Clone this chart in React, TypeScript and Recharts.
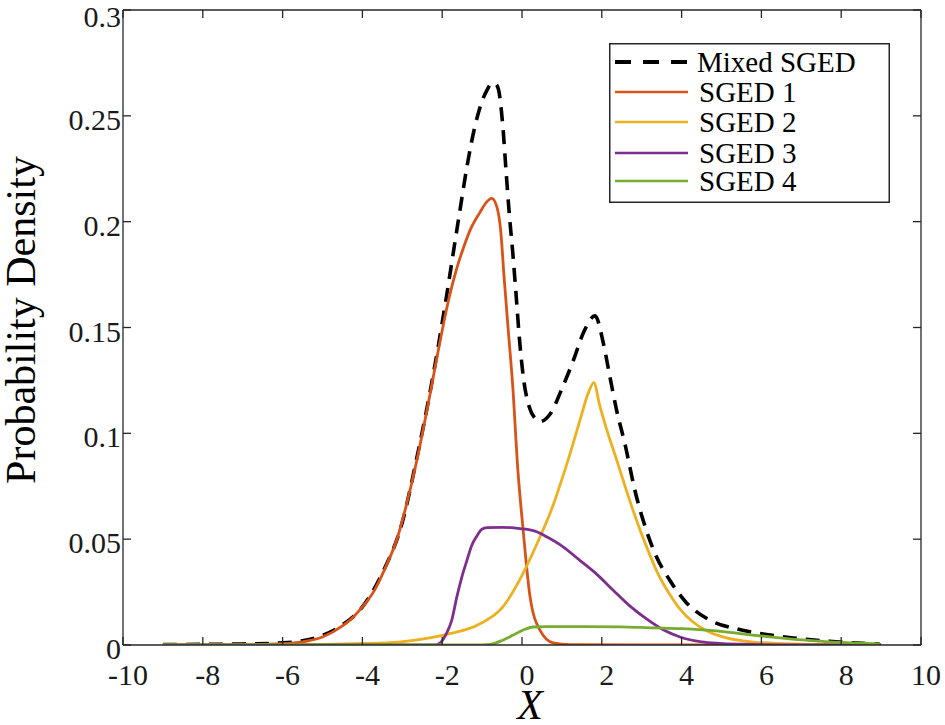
import React from 'react';
import { LineChart, Line, XAxis, YAxis, Legend, Label } from 'recharts';

// ---- data ----
const xTicks = [-10, -8, -6, -4, -2, 0, 2, 4, 6, 8, 10];
const yTicks = [0, 0.05, 0.1, 0.15, 0.2, 0.25, 0.3];

const mixedX = [-9, -8, -7, -6, -5.5, -5, -4.5, -4, -3.5, -3, -2.64, -2.3, -2.1, -1.89, -1.7, -1.55, -1.37, -1.18, -1.0, -0.88, -0.75, -0.66, -0.59, -0.48, -0.4, -0.32, -0.23, -0.15, -0.07, 0.03, 0.18, 0.33, 0.45, 0.7, 1.02, 1.29, 1.55, 1.83, 2.04, 2.2, 2.37, 2.58, 2.83, 3.12, 3.37, 3.7, 4.12, 4.7, 5.38, 6.04, 6.8, 7.63, 8.28, 8.96];
const mixedY = [0.0002, 0.0003, 0.0005, 0.001, 0.002, 0.0045, 0.0095, 0.018, 0.034, 0.058, 0.088, 0.12, 0.141, 0.165, 0.188, 0.206, 0.227, 0.245, 0.257, 0.262, 0.2655, 0.265, 0.2625, 0.245, 0.224, 0.204, 0.185, 0.166, 0.146, 0.127, 0.1126, 0.107, 0.1055, 0.109, 0.122, 0.1346, 0.148, 0.1555, 0.1425, 0.127, 0.111, 0.095, 0.073, 0.054, 0.0417, 0.0307, 0.02, 0.0118, 0.0076, 0.0052, 0.0033, 0.0019, 0.001, 0.0005];

const sged1X = [-9, -7, -6, -5.5, -5, -4.5, -4.24, -4, -3.74, -3.39, -3.14, -2.9, -2.65, -2.31, -2.1, -1.84, -1.65, -1.48, -1.3, -1.05, -0.9, -0.76, -0.63, -0.53, -0.45, -0.35, -0.22, -0.12, 0.03, 0.2, 0.45, 0.78, 1.2, 3, 6, 9];
const sged1Y = [0, 0.0001, 0.0006, 0.0015, 0.0038, 0.009, 0.013, 0.018, 0.0245, 0.038, 0.0496, 0.066, 0.086, 0.118, 0.139, 0.163, 0.177, 0.187, 0.196, 0.2045, 0.209, 0.211, 0.207, 0.195, 0.174, 0.15, 0.119, 0.087, 0.054, 0.023, 0.007, 0.001, 0.0002, 0, 0, 0];

const sged2X = [-9, -6, -5, -4, -3.1, -2.5, -1.88, -1.05, -0.48, 0.03, 0.45, 0.78, 1.03, 1.15, 1.45, 1.66, 1.8, 1.95, 2.12, 2.38, 2.6, 2.85, 3.13, 3.4, 3.7, 3.96, 4.28, 4.6, 4.95, 5.8, 7, 8, 9];
const sged2Y = [0, 0.0001, 0.0003, 0.0007, 0.0014, 0.0028, 0.005, 0.01, 0.018, 0.034, 0.051, 0.066, 0.08, 0.087, 0.106, 0.119, 0.124, 0.113, 0.102, 0.087, 0.074, 0.06, 0.046, 0.034, 0.024, 0.017, 0.011, 0.007, 0.0043, 0.0014, 0.0004, 0.0001, 0];

const sged3X = [-9, -2.2, -2.05, -1.89, -1.76, -1.63, -1.51, -1.38, -1.26, -1.13, -1.01, -0.88, -0.5, -0.05, 0.37, 0.63, 1.03, 1.45, 1.87, 2.28, 2.7, 3.13, 3.54, 3.96, 4.5, 4.95, 5.5, 6.5, 9];
const sged3Y = [0, 0, 0.001, 0.0056, 0.0118, 0.023, 0.032, 0.04, 0.047, 0.0515, 0.0546, 0.0555, 0.0556, 0.055, 0.0535, 0.051, 0.0464, 0.04, 0.0335, 0.026, 0.0185, 0.0122, 0.0072, 0.0038, 0.0015, 0.0008, 0.0004, 0.0001, 0];

const sged4X = [-9, -1.2, -0.8, -0.47, -0.22, 0.03, 0.28, 0.6, 1.5, 2.45, 3.28, 4.0, 4.53, 5.2, 5.78, 6.4, 7.03, 7.6, 8.28, 8.96];
const sged4Y = [0, 0, 0.0003, 0.0024, 0.0047, 0.0071, 0.0085, 0.0087, 0.0087, 0.0086, 0.0081, 0.0077, 0.0071, 0.006, 0.0047, 0.0035, 0.0024, 0.0016, 0.001, 0.0005];

const seriesNames = ['Mixed SGED', 'SGED 1', 'SGED 2', 'SGED 3', 'SGED 4'];
// ---------------------------------------

const FONT = '"Liberation Serif", "Times New Roman", serif';
const AXIS = '#262626';

const toPoints = (xs: number[], ys: number[]) => xs.map((x, i) => ({ x, y: ys[i] }));

const series = [
  { name: seriesNames[0], data: toPoints(mixedX, mixedY), color: '#000000', width: 3.6, dash: '14 9' },
  { name: seriesNames[1], data: toPoints(sged1X, sged1Y), color: '#D95319', width: 2.8, dash: undefined },
  { name: seriesNames[2], data: toPoints(sged2X, sged2Y), color: '#EDB120', width: 2.8, dash: undefined },
  { name: seriesNames[3], data: toPoints(sged3X, sged3Y), color: '#7E2F8E', width: 2.8, dash: undefined },
  { name: seriesNames[4], data: toPoints(sged4X, sged4Y), color: '#77AC30', width: 2.8, dash: undefined },
];

const XTick = (props: any) => {
  const { x, y, payload } = props;
  return (
    <text x={x + 5} y={y + 40} textAnchor="middle" fontFamily={FONT} fontSize={30} fill="#1a1a1a">
      {String(payload.value)}
    </text>
  );
};

const YTick = (props: any) => {
  const { x, y, payload } = props;
  return (
    <text x={x - 2} y={Math.max(y + 14, 27)} textAnchor="end" fontFamily={FONT} fontSize={30} fill="#1a1a1a">
      {String(payload.value)}
    </text>
  );
};

const NoTick = () => <g />;

const LegendBox = () => {
  const rowY = [19, 49, 79, 110, 138];
  return (
    <svg width={281} height={160} style={{ display: 'block' }}>
      <rect x={0.75} y={0.75} width={279.5} height={158.5} fill="#ffffff" stroke={AXIS} strokeWidth={1.5} />
      {series.map((s, i) => (
        <g key={s.name}>
          <line
            x1={6}
            x2={79}
            y1={rowY[i]}
            y2={rowY[i]}
            stroke={s.color}
            strokeWidth={s.dash ? 4 : 2.5}
            strokeDasharray={s.dash ? '16 12' : undefined}
          />
          <text x={i === 0 ? 88 : 90} y={rowY[i] + 10} fontFamily={FONT} fontSize={29} fill="#000">
            {s.name}
          </text>
        </g>
      ))}
    </svg>
  );
};

export default function App() {
  return (
    <div style={{ position: 'absolute', left: 0, top: 0, background: '#fff' }}>
      <LineChart width={945} height={725} margin={{ top: 0, right: 0, bottom: 0, left: 0 }}>
        <XAxis
          xAxisId="b"
          dataKey="x"
          type="number"
          domain={[-10, 10]}
          ticks={xTicks}
          allowDataOverflow
          orientation="bottom"
          height={80}
          stroke={AXIS}
          strokeWidth={1.3}
          tickSize={-8}
          tickMargin={8}
          tick={<XTick />}
        >
          <Label
            content={() => (
              <text x={530} y={719} textAnchor="middle" fontFamily={FONT} fontSize={42} fontStyle="italic" fill="#000">
                X
              </text>
            )}
          />
        </XAxis>
        <XAxis
          xAxisId="t"
          dataKey="x"
          type="number"
          domain={[-10, 10]}
          ticks={xTicks}
          allowDataOverflow
          orientation="top"
          height={10}
          stroke={AXIS}
          strokeWidth={1.3}
          tickSize={-8}
          tick={NoTick}
        />
        <YAxis
          yAxisId="l"
          type="number"
          domain={[0, 0.3]}
          ticks={yTicks}
          allowDataOverflow
          orientation="left"
          width={123}
          stroke={AXIS}
          strokeWidth={1.3}
          tickSize={-8}
          tickMargin={8}
          tick={<YTick />}
        >
          <Label
            content={() => (
              <text
                transform="translate(35,320) rotate(-90)"
                textAnchor="middle"
                fontFamily={FONT}
                fontSize={42}
                fill="#000"
              >
                Probability Density
              </text>
            )}
          />
        </YAxis>
        <YAxis
          yAxisId="r"
          type="number"
          domain={[0, 0.3]}
          ticks={yTicks}
          allowDataOverflow
          orientation="right"
          width={24}
          stroke={AXIS}
          strokeWidth={1.3}
          tickSize={-8}
          tick={NoTick}
        />
        <Legend
          layout="horizontal"
          verticalAlign="middle"
          align="center"
          wrapperStyle={{ position: 'absolute', left: 609, top: 43, width: 281, height: 160 }}
          content={<LegendBox />}
        />
        {series.map((s) => (
          <Line
            key={s.name}
            xAxisId="b"
            yAxisId="l"
            data={s.data}
            dataKey="y"
            name={s.name}
            type="monotone"
            stroke={s.color}
            strokeWidth={s.width}
            strokeDasharray={s.dash}
            dot={false}
            activeDot={false}
            isAnimationActive={false}
          />
        ))}
      </LineChart>
    </div>
  );
}
